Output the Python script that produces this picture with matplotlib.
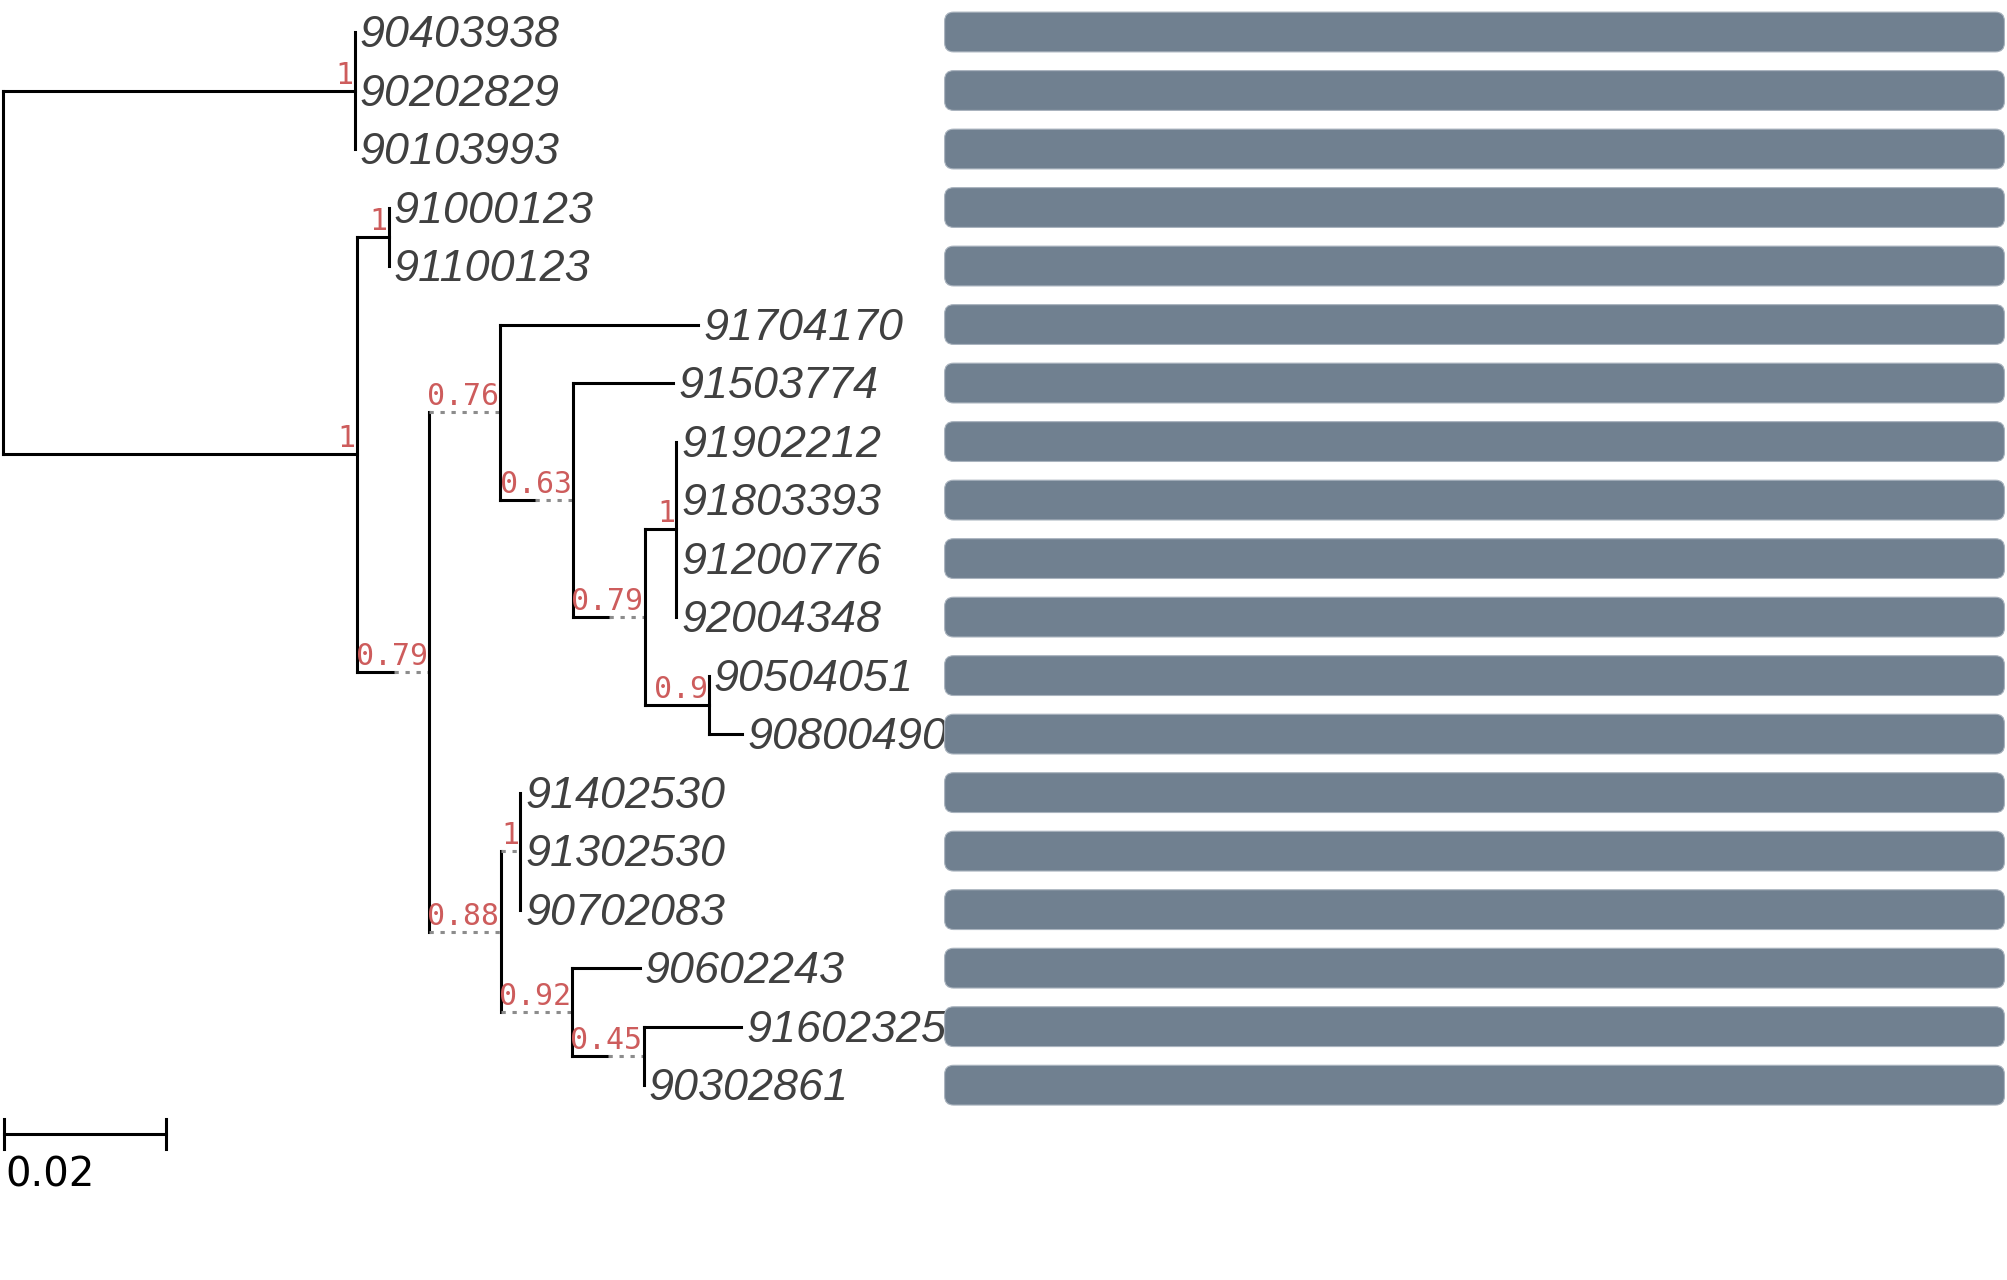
import matplotlib
matplotlib.use("Agg")
import matplotlib.pyplot as plt
from matplotlib.patches import FancyBboxPatch

# tree as parent table; lengths = real branch (solid), extensions = dotted filler
nodes = ["root", "A", "90403938", "90202829", "90103993",
         "B", "B1", "91000123", "91100123",
         "B2", "C", "91704170", "E", "91503774", "F",
         "G", "91902212", "91803393", "91200776", "92004348",
         "H", "90504051", "90800490",
         "D", "I", "91402530", "91302530", "90702083",
         "J", "90602243", "K", "91602325", "90302861"]
parents = [None, "root", "A", "A", "A",
           "root", "B", "B1", "B1",
           "B", "B2", "C", "C", "E", "E",
           "F", "G", "G", "G", "G",
           "F", "H", "H",
           "B2", "D", "I", "I", "I",
           "D", "J", "J", "K", "K"]
lengths = [0, 0.0433, 0, 0, 0,
           0.0436, 0.0039, 0, 0,
           0.0046, 0.0, 0.0244, 0.0043, 0.0123, 0.0044,
           0.0039, 0, 0, 0, 0,
           0.0079, 0, 0.0041,
           0.0, 0.0, 0, 0, 0,
           0.0, 0.0083, 0.0044, 0.0120, 0]
extensions = [0, 0, 0, 0, 0,
              0, 0, 0, 0,
              0.0043, 0.0087, 0, 0.0047, 0, 0.0044,
              0, 0, 0, 0, 0,
              0, 0, 0,
              0.0088, 0.0024, 0, 0, 0,
              0.0088, 0, 0.0044, 0, 0]
supports = [None, 1, None, None, None,
            1, 1, None, None,
            0.79, 0.76, None, 0.63, None, 0.79,
            1, None, None, None, None,
            0.9, None, None,
            0.88, 1, None, None, None,
            0.92, None, 0.45, None, None]
bar_values = [1, 1, 1, 1, 1, 1, 1, 1, 1, 1, 1, 1, 1, 1, 1, 1, 1, 1, 1]
scale_len = 0.02

W, H, DPI = 20.07, 12.8, 100
fig = plt.figure(figsize=(W, H), dpi=DPI)
ax = fig.add_axes([0, 0, 1, 1])
ax.set_xlim(-0.000315, 0.2466)
ax.set_ylim(21.33, -0.547)
ax.axis("off")

children = {n: [] for n in nodes}
for n, p in zip(nodes, parents):
    if p is not None:
        children[p].append(n)
info = {n: (l, e, s) for n, l, e, s in zip(nodes, lengths, extensions, supports)}

xs, ys = {}, {}
row = [0]


def layout(n, x0):
    l, e, s = info[n]
    xs[n] = x0 + l + e
    if not children[n]:
        ys[n] = row[0]
        row[0] += 1
    else:
        for c in children[n]:
            layout(c, xs[n])
        ys[n] = (ys[children[n][0]] + ys[children[n][-1]]) / 2


layout("root", 0)

lw = 2.2
for n, p in zip(nodes, parents):
    l, e, s = info[n]
    y = ys[n]
    if p is not None:
        px = xs[p]
        if l > 0:
            ax.plot([px, px + l], [y, y], color="black", lw=lw,
                    solid_capstyle="projecting")
        if e > 0:
            ax.plot([px + l, xs[n]], [y, y], color="#8c8c8c", lw=lw,
                    ls=(0, (1.4, 2.2)))
    if children[n]:
        ax.plot([xs[n], xs[n]], [ys[children[n][0]], ys[children[n][-1]]],
                color="black", lw=lw, solid_capstyle="projecting")
        if s is not None:
            ax.annotate("{:g}".format(s), (xs[n], y), xytext=(-1, 5),
                        textcoords="offset points", ha="right", va="baseline",
                        family="DejaVu Sans Mono", size=21.5, color="#cd5c5c")
    else:
        ax.annotate(n, (xs[n], y), xytext=(3.5, -11),
                    textcoords="offset points", ha="left", va="baseline",
                    family="Liberation Sans", style="italic", size=32.3,
                    color="#404040")

# scale bar
n_rows = row[0]
sy = n_rows - 1 + 0.83
ax.plot([0.00016, 0.00016 + scale_len], [sy, sy], color="black", lw=lw)
for sx in (0.00016, 0.00016 + scale_len):
    ax.plot([sx, sx], [sy - 0.26, sy + 0.26], color="black", lw=lw)
ax.text(0.0003, sy + 0.72, "{:g}".format(scale_len), ha="left", va="center",
        family="DejaVu Sans", size=29, color="black")

# bars
left, right = 738 / 1568, 1566 / 1568
bx = fig.add_axes([left, 0, right - left, 1])
bx.set_xlim(0, 1)
bx.set_ylim(21.33, -0.547)
bx.axis("off")
px_w = (right - left) * W * DPI
px_h = H * DPI
aspect = (21.33 + 0.547) / px_h * px_w
bh = 0.68
for i, v in enumerate(bar_values):
    box = FancyBboxPatch((0, i - bh / 2), v, bh,
                         boxstyle="round,pad=0,rounding_size=%f" % (9 / px_w),
                         mutation_aspect=aspect, fc="#708090",
                         ec="#a9b3be", lw=0.8, clip_on=False)
    bx.add_patch(box)

fig.savefig("out.png", dpi=DPI)
